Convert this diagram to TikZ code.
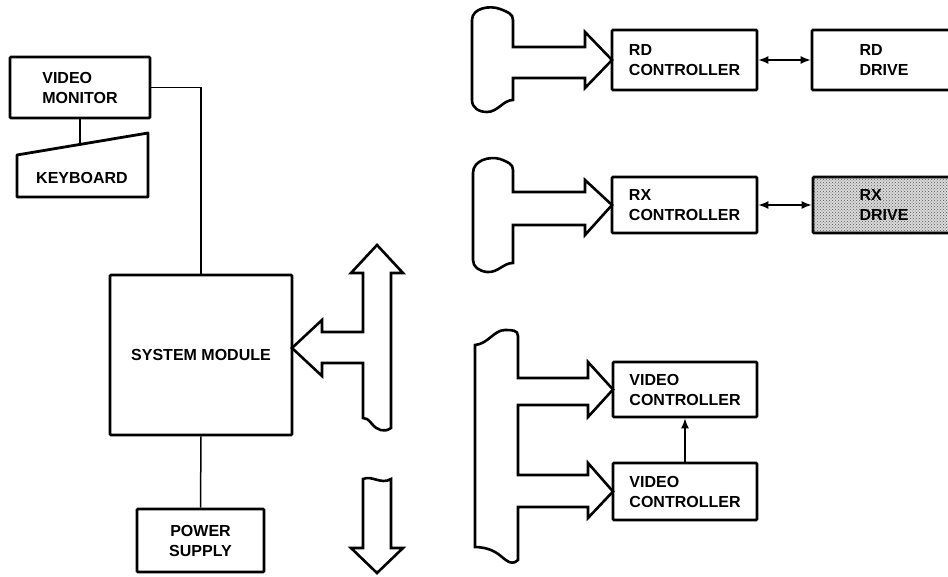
\documentclass[tikz,border=0pt]{standalone}
\usepackage{fontspec}
\setmainfont{Liberation Sans}
\usetikzlibrary{arrows.meta,patterns}

\begin{document}
\begin{tikzpicture}[x=1pt, y=-1pt,
    box/.style={draw, line width=2.8pt, rounded corners=1pt, align=left, inner sep=0pt, font=\fontsize{16}{20}\selectfont\bfseries},
    bus/.style={draw, line width=2.6pt, line join=miter, fill=white},
    link/.style={line width=1.5pt}]
    \useasboundingbox (0,0) rectangle (948,577);
    \clip (0,0) rectangle (948,577);

    % Left side: console units
    \node[box, minimum width=140, minimum height=61] (monitor) at (80,87.5) {VIDEO\\MONITOR};
    \draw[line width=2.8pt, line join=round] (17,197) -- (17,155) -- (148,133) -- (148,197) -- cycle;
    \node[font=\fontsize{16}{20}\selectfont\bfseries] (kbd) at (82,178) {KEYBOARD};
    \coordinate (kbtop) at (80,144.4);
    \node[box, minimum width=182, minimum height=160, align=center] (sys) at (201,355) {SYSTEM MODULE};
    \node[box, minimum width=127, minimum height=63, align=center] (power) at (200.5,540.5) {POWER\\SUPPLY};
    \draw[link] (monitor.south) -- (kbtop);
    \draw[link] (monitor.east) -| (sys.north);
    \draw[link] (sys.south) -- (power.north);

    % System bus with branch into the system module
    \draw[bus] (377,245) -- (403,273) -- (391,273) -- (391,428)
        .. controls (384,433) and (377,430) .. (372,424)
        .. controls (368,419) and (366,418) .. (363,418)
        -- (363,363) -- (322,363) -- (322,376) -- (292,348) -- (322,320) -- (322,332)
        -- (363,332) -- (363,273) -- (351,273) -- cycle;
    % System bus continued
    \draw[bus] (363,479) .. controls (372,475) and (381,485) .. (391,479)
        -- (391,548) -- (403,548) -- (377,573) -- (351,548) -- (363,548) -- cycle;

    % Right side: controllers and drives
    \node[box, minimum width=145, minimum height=60] (rdc) at (684.5,60) {RD\\CONTROLLER};
    \node[box, minimum width=144, minimum height=60] (rdd) at (884,60) {RD\\DRIVE};
    \node[box, minimum width=145, minimum height=56] (rxc) at (684.5,205) {RX\\CONTROLLER};
    \node[box, minimum width=142, minimum height=56, fill=gray!30,
          postaction={pattern=crosshatch dots, pattern color=gray!70!black}] (rxd) at (884,205) {RX\\DRIVE};
    \node[box, minimum width=144, minimum height=55] (vc1) at (685,389.5) {VIDEO\\CONTROLLER};
    \node[box, minimum width=144, minimum height=57] (vc2) at (685,491.5) {VIDEO\\CONTROLLER};
    \draw[link, {Latex[length=10pt,width=8pt]}-{Latex[length=10pt,width=8pt]}] (rdc.east) -- (rdd.west);
    \draw[link, {Latex[length=10pt,width=8pt]}-{Latex[length=10pt,width=8pt]}] (rxc.east) -- (rxd.west);
    \draw[link, -{Latex[length=10pt,width=8pt]}] (vc2.north) -- (vc1.south);

    % RD bus
    \draw[bus] (472,20) .. controls (472,8) and (490,5) .. (500,9)
        .. controls (508,12) and (513,14) .. (513,20)
        -- (513,47) -- (585,47) -- (585,32) -- (612,60) -- (585,88) -- (585,78) -- (513,78)
        -- (513,100) .. controls (503,100) and (498,112) .. (487,112)
        .. controls (479,112) and (472,108) .. (472,100) -- cycle;
    % RX bus
    \draw[bus] (473,173) .. controls (473,160) and (490,156) .. (500,159)
        .. controls (508,162) and (513,164) .. (513,170)
        -- (513,192) -- (585,192) -- (585,180) -- (612,205) -- (585,235) -- (585,225) -- (513,225)
        -- (513,263) .. controls (503,263) and (498,273) .. (487,272)
        .. controls (479,271) and (473,267) .. (473,260) -- cycle;
    % Video bus
    \draw[bus] (475,345) .. controls (488,344) and (494,330) .. (505,330)
        .. controls (512,330) and (518,330) .. (518,336)
        -- (518,378) -- (588,378) -- (588,362) -- (613,389.5) -- (588,417) -- (588,405) -- (518,405)
        -- (518,475) -- (588,475) -- (588,463) -- (613,491.5) -- (588,518) -- (588,507) -- (518,507)
        -- (518,560) .. controls (510,568) and (503,556) .. (495,552)
        .. controls (488,548) and (480,547) .. (475,547) -- cycle;
\end{tikzpicture}
\end{document}
